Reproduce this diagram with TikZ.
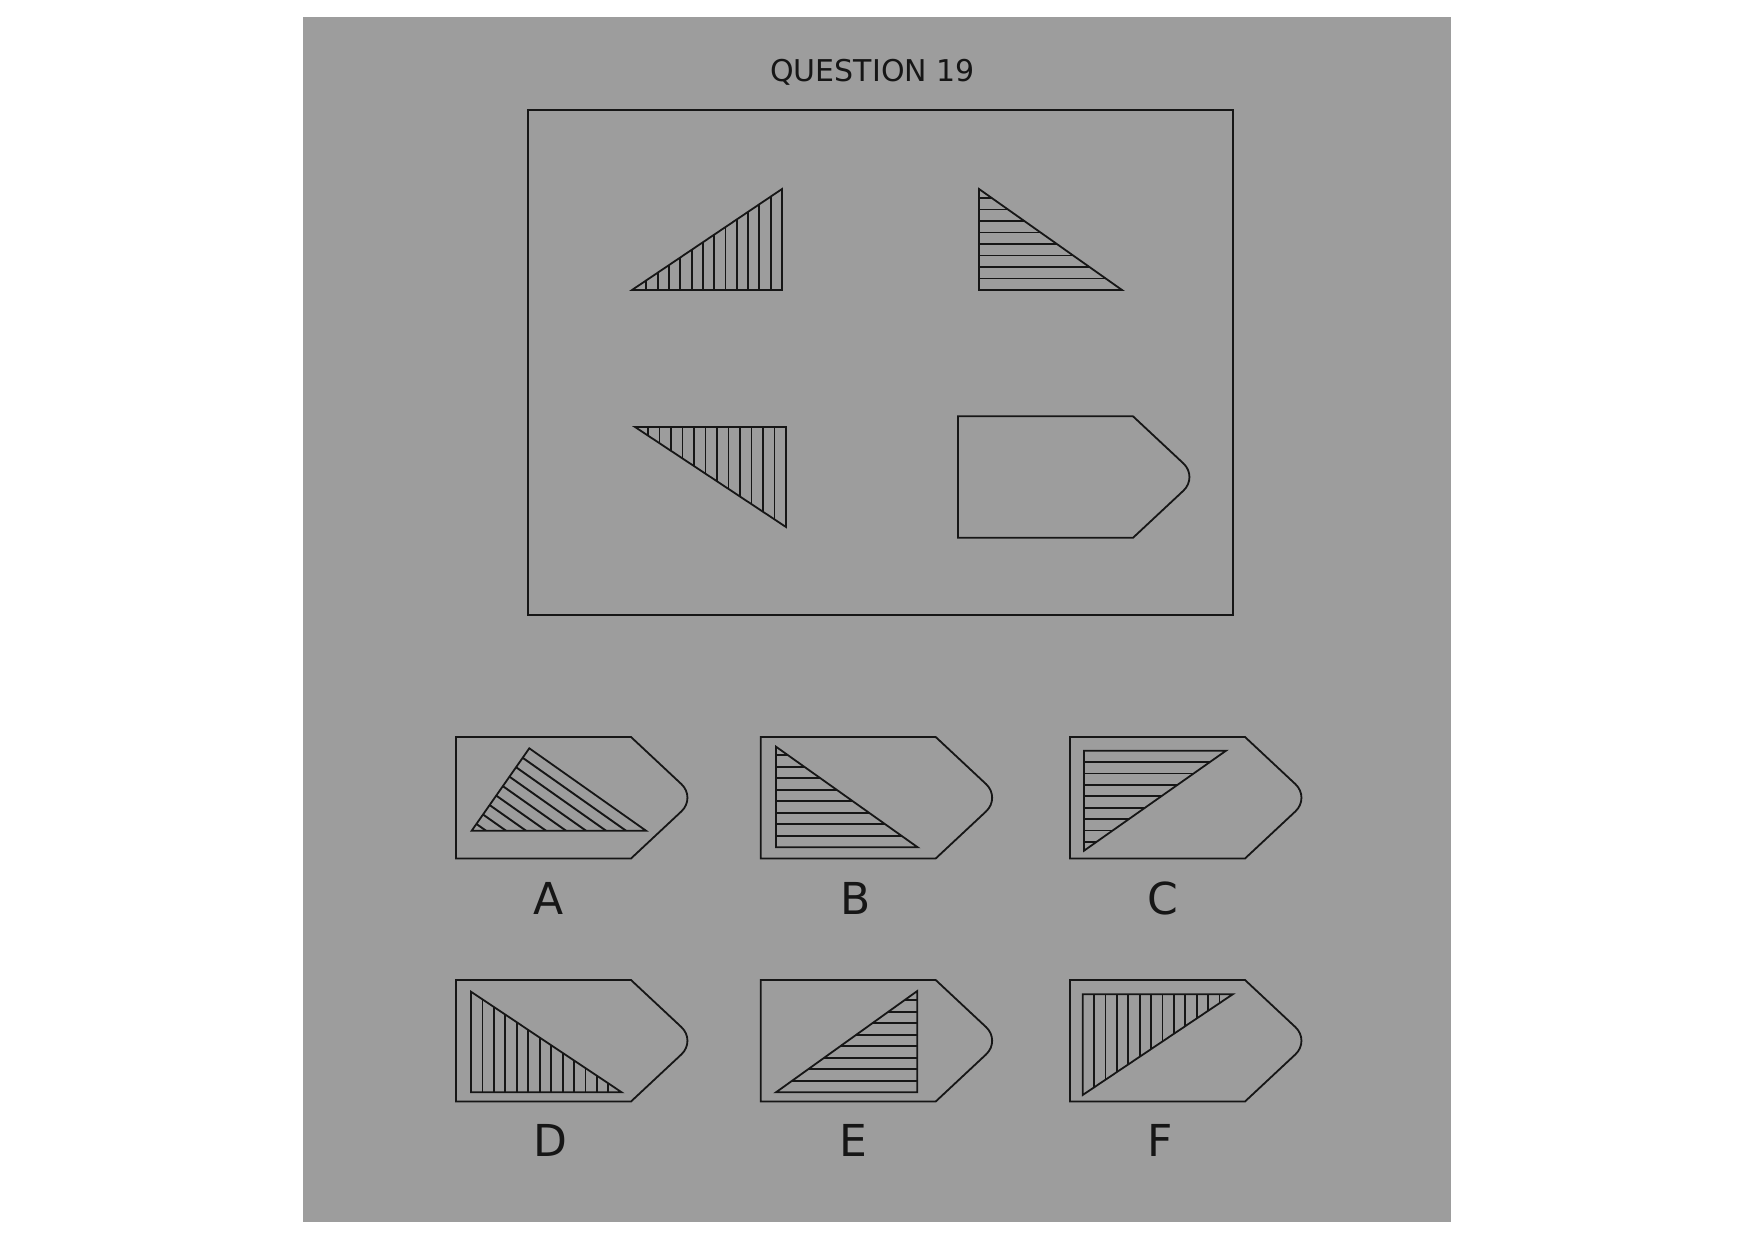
\documentclass[tikz,border=0pt]{standalone}
\usepackage{fontspec}
\setmainfont{DejaVu Sans}
\definecolor{bgc}{RGB}{157,157,157}
\definecolor{ink}{RGB}{22,22,22}
\tikzset{
  ln/.style={draw=ink, line width=1.8pt, line join=miter},
  hatch/.style={draw=ink, line width=1.9pt},
  lbl/.style={text=ink, anchor=base, inner sep=0pt, font=\fontsize{44}{50}\selectfont},
  ttl/.style={text=ink, anchor=base, inner sep=0pt, font=\fontsize{30}{36}\selectfont},
}
% pentagon tag shape with rounded tip, local coordinates (left, top)
\newcommand\tagshape[2]{%
  \begin{scope}[shift={(#1,#2)}]
    \draw[ln] (0,0) -- (175,0) -- (225.39,47.10) .. controls (233.46,54.64) and (233.46,66.86) .. (225.39,74.40) -- (175,121.5) -- (0,121.5) -- cycle;
  \end{scope}}
\begin{document}
\begin{tikzpicture}[x=1pt,y=-1pt]
\useasboundingbox (0,0) rectangle (1754,1241);
\fill[white] (0,0) rectangle (1754,1241);
\fill[bgc] (303,17) rectangle (1451,1222);

\node[ttl] (title) at (872.5,81.5) {QUESTION 19};

% main frame
\draw[ln] (528,110) rectangle (1233,615);

% triangle 1: vertical hatching
\begin{scope}
  \clip (632,290) -- (782,189) -- (782,290) -- cycle;
  \foreach \k in {1,...,12} \draw[hatch] ({782-11.3*\k},180) -- ({782-11.3*\k},300);
\end{scope}
\draw[ln] (632,290) -- (782,189) -- (782,290) -- cycle;

% triangle 2: horizontal hatching
\begin{scope}
  \clip (979,189) -- (979,290) -- (1122,290) -- cycle;
  \foreach \k in {1,...,8} \draw[hatch] (970,{290-11.5*\k}) -- (1130,{290-11.5*\k});
\end{scope}
\draw[ln] (979,189) -- (979,290) -- (1122,290) -- cycle;

% triangle 3: vertical hatching
\begin{scope}
  \clip (635,427) -- (786,427) -- (786,527) -- cycle;
  \foreach \k in {1,...,12} \draw[hatch] ({786-11.5*\k},420) -- ({786-11.5*\k},535);
\end{scope}
\draw[ln] (635,427) -- (786,427) -- (786,527) -- cycle;

% main pentagon
\tagshape{958}{416.3}

% ---- answers ----
\tagshape{456}{737}
\tagshape{760.7}{737}
\tagshape{1070}{737}
\tagshape{456}{980}
\tagshape{760.7}{980}
\tagshape{1070}{980}

% A: diagonal hatching
\begin{scope}
  \clip (529.3,748.3) -- (471.7,830.7) -- (646,830.7) -- cycle;
  \foreach \i in {1,...,8} \draw[hatch] ({646-20*\i-200},{830.7-141.2}) -- ({646-20*\i+30},{830.7+21.2});
\end{scope}
\draw[ln] (529.3,748.3) -- (471.7,830.7) -- (646,830.7) -- cycle;

% B: horizontal hatching
\begin{scope}
  \clip (776,746.7) -- (776,847.3) -- (917.7,847.3) -- cycle;
  \foreach \i in {1,...,8} \draw[hatch] (770,{847.3-11.5*\i}) -- (925,{847.3-11.5*\i});
\end{scope}
\draw[ln] (776,746.7) -- (776,847.3) -- (917.7,847.3) -- cycle;

% C: horizontal hatching
\begin{scope}
  \clip (1084,750.7) -- (1226,750.7) -- (1084,850.7) -- cycle;
  \foreach \i in {1,...,8} \draw[hatch] (1078,{750.7+11.4*\i}) -- (1232,{750.7+11.4*\i});
\end{scope}
\draw[ln] (1084,750.7) -- (1226,750.7) -- (1084,850.7) -- cycle;

% D: vertical hatching
\begin{scope}
  \clip (471,991.7) -- (471,1092.3) -- (621.7,1092.3) -- cycle;
  \foreach \i in {1,...,12} \draw[hatch] ({471+11.45*\i},985) -- ({471+11.45*\i},1100);
\end{scope}
\draw[ln] (471,991.7) -- (471,1092.3) -- (621.7,1092.3) -- cycle;

% E: horizontal hatching
\begin{scope}
  \clip (917.3,991) -- (917.3,1092.3) -- (776,1092.3) -- cycle;
  \foreach \i in {1,...,8} \draw[hatch] (770,{1092.3-11.5*\i}) -- (925,{1092.3-11.5*\i});
\end{scope}
\draw[ln] (917.3,991) -- (917.3,1092.3) -- (776,1092.3) -- cycle;

% F: vertical hatching
\begin{scope}
  \clip (1082.7,994.3) -- (1232.7,994.3) -- (1082.7,1095) -- cycle;
  \foreach \i in {1,...,12} \draw[hatch] ({1082.7+11.4*\i},988) -- ({1082.7+11.4*\i},1100);
\end{scope}
\draw[ln] (1082.7,994.3) -- (1232.7,994.3) -- (1082.7,1095) -- cycle;

% labels
\node[lbl] (la) at (549,914) {A};
\node[lbl] (lb) at (855.7,914) {B};
\node[lbl] (lc) at (1163.3,914) {C};
\node[lbl] (ld) at (550.4,1156) {D};
\node[lbl] (le) at (853.5,1156) {E};
\node[lbl] (lf) at (1160,1156) {F};
\end{tikzpicture}
\end{document}
